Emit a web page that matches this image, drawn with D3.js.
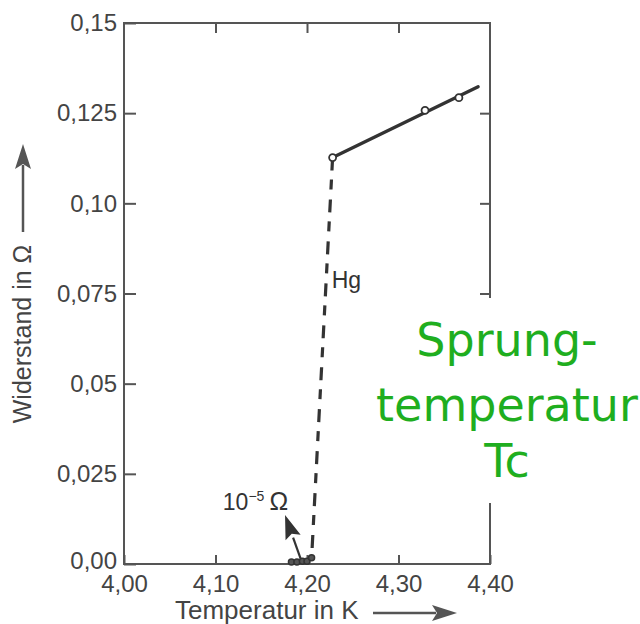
<!DOCTYPE html>
<html>
<head>
<meta charset="utf-8">
<script src="https://cdn.jsdelivr.net/npm/d3@7"></script>
<style>
  body { margin: 0; background: #fff; }
  svg { display: block; font-family: "Liberation Sans", Arial, sans-serif; }
</style>
</head>
<body>
<svg width="640" height="624"></svg>
<script>
  // measured points (open circles) above Tc
  const tempK = [4.228, 4.329, 4.366];
  const resOhm = [0.1127, 0.1258, 0.1293];
  // straight fit through the normal-state points
  const fitT = [4.228, 4.387];
  const fitR = [0.1127, 0.1323];
  // steep drop at the transition (dashed)
  const dropT = [4.228, 4.205];
  const dropR = [0.1127, 0.0015];
  // points below Tc, about 1e-5 ohm
  const lowT = [4.183, 4.189, 4.195, 4.2, 4.205];
  const lowR = [0.0, 0.0, 0.0002, 0.0002, 0.0012];
  const xTicks = [4.0, 4.1, 4.2, 4.3, 4.4];
  const yTicks = [0, 0.025, 0.05, 0.075, 0.1, 0.125, 0.15];
  const yTickLabels = ["0,00", "0,025", "0,05", "0,075", "0,10", "0,125", "0,15"];
  const greenLines = ["Sprung-", "temperatur", "Tc"];

  const svg = d3.select("svg");
  const axisCol = "#555";
  const inkCol = "#333";

  const x = d3.scaleLinear().domain([4.0, 4.4]).range([124, 490]);
  const y = d3.scaleLinear().domain([0, 0.15]).range([564, 23]);

  const fmtX = (d) => d.toFixed(2).replace(".", ",");

  // frame
  svg.append("rect")
    .attr("x", x(4.0)).attr("y", y(0.15))
    .attr("width", x(4.4) - x(4.0)).attr("height", y(0) - y(0.15))
    .attr("fill", "none").attr("stroke", axisCol).attr("stroke-width", 2);

  const styleAxis = (g, fs) => {
    g.select(".domain").remove();
    g.selectAll(".tick line").attr("stroke", axisCol).attr("stroke-width", 2);
    g.selectAll(".tick text").attr("fill", "#444").attr("font-size", fs);
  };

  svg.append("g").attr("transform", `translate(${x(4.0)},0)`)
    .call(d3.axisLeft(y).tickValues(yTicks).tickSizeInner(-12).tickSizeOuter(0)
      .tickPadding(7).tickFormat((d, i) => yTickLabels[i]))
    .call(styleAxis, 24)
    .call((g) => g.selectAll(".tick text").filter((d) => d === 0).attr("dy", "0.2em"));

  svg.append("g").attr("transform", `translate(0,${y(0)})`)
    .call(d3.axisBottom(x).tickValues(xTicks).tickSizeInner(-9).tickSizeOuter(0)
      .tickPadding(11).tickFormat(fmtX))
    .call(styleAxis, 24);

  svg.append("g").attr("transform", `translate(0,${y(0.15)})`)
    .call(d3.axisTop(x).tickValues(xTicks.slice(1, 4)).tickSizeInner(-10).tickSizeOuter(0)
      .tickFormat(""))
    .call(styleAxis, 0);

  svg.append("g").attr("transform", `translate(${x(4.4)},0)`)
    .call(d3.axisRight(y).tickValues(yTicks.slice(1, 6)).tickSizeInner(-10).tickSizeOuter(0)
      .tickFormat(""))
    .call(styleAxis, 0);

  // data
  const line = d3.line().x((d) => x(d[0])).y((d) => y(d[1]));

  svg.append("path")
    .attr("d", line(d3.zip(fitT, fitR)))
    .attr("fill", "none").attr("stroke", inkCol).attr("stroke-width", 3.4)
    .attr("stroke-linecap", "round");

  svg.append("path")
    .attr("d", line(d3.zip(dropT, dropR)))
    .attr("fill", "none").attr("stroke", inkCol).attr("stroke-width", 3.2)
    .attr("stroke-dasharray", "13 9 10 10");

  svg.selectAll("circle.hi")
    .data(d3.zip(tempK, resOhm))
    .join("circle").attr("class", "hi")
    .attr("cx", (d) => x(d[0])).attr("cy", (d) => y(d[1])).attr("r", 3.5)
    .attr("fill", "#fff").attr("stroke", inkCol).attr("stroke-width", 1.8);

  svg.selectAll("circle.lo")
    .data(d3.zip(lowT, lowR))
    .join("circle").attr("class", "lo")
    .attr("cx", (d) => x(d[0])).attr("cy", (d) => y(d[1]) - 2).attr("r", 3)
    .attr("fill", "#555").attr("stroke", inkCol).attr("stroke-width", 1.5);

  // arrow to the 1e-5 ohm points
  const ax0 = x(4.193), ay0 = y(0.0015), ax1 = x(4.176), ay1 = y(0.0136);
  const ang = Math.atan2(ay1 - ay0, ax1 - ax0);
  const hl = 24, hw = 8;
  const bx = ax1 - hl * Math.cos(ang), by = ay1 - hl * Math.sin(ang);
  svg.append("line")
    .attr("x1", ax0).attr("y1", ay0).attr("x2", bx).attr("y2", by)
    .attr("stroke", inkCol).attr("stroke-width", 2.2);
  svg.append("path")
    .attr("d", `M${ax1},${ay1}L${bx + hw * Math.sin(ang)},${by - hw * Math.cos(ang)}L${bx + 4 * Math.cos(ang)},${by + 4 * Math.sin(ang)}L${bx - hw * Math.sin(ang)},${by + hw * Math.cos(ang)}Z`)
    .attr("fill", inkCol);

  const lab = svg.append("text")
    .attr("x", x(4.108)).attr("y", y(0.0149))
    .attr("font-size", 23).attr("fill", "#333");
  lab.append("tspan").text("10");
  lab.append("tspan").text("−5").attr("font-size", 14).attr("dy", -9);
  lab.append("tspan").text("\u2009Ω").attr("dy", 9).attr("font-size", 25);

  svg.append("text")
    .attr("x", x(4.227)).attr("y", y(0.0765))
    .attr("font-size", 23).attr("fill", "#333").text("Hg");

  // axis titles
  svg.append("text")
    .attr("transform", "translate(31,334) rotate(-90)")
    .attr("text-anchor", "middle").attr("font-size", 25).attr("fill", "#444")
    .text("Widerstand in Ω");
  svg.append("line")
    .attr("x1", 23).attr("y1", 232).attr("x2", 23).attr("y2", 165)
    .attr("stroke", "#555").attr("stroke-width", 2.5);
  svg.append("path").attr("d", "M23,144L15,169L23,164L31,169Z").attr("fill", "#555");

  svg.append("text")
    .attr("x", 175).attr("y", 619)
    .attr("font-size", 26).attr("fill", "#444")
    .text("Temperatur in K");
  svg.append("line")
    .attr("x1", 373).attr("y1", 613).attr("x2", 436).attr("y2", 613)
    .attr("stroke", "#555").attr("stroke-width", 2.5);
  svg.append("path").attr("d", "M457,613L432,605L437,613L432,621Z").attr("fill", "#555");

  // green note, on a white patch over the right axis
  svg.append("rect")
    .attr("x", 400).attr("y", 298).attr("width", 240).attr("height", 205)
    .attr("fill", "#fff");
  svg.append("g")
    .selectAll("text")
    .data(greenLines)
    .join("text")
    .attr("x", 507)
    .attr("y", (d, i) => [356, 421, 477][i])
    .attr("text-anchor", "middle")
    .attr("font-family", "'DejaVu Sans', sans-serif")
    .attr("font-size", 46)
    .attr("fill", "#1fae1f")
    .text((d) => d);
</script>
</body>
</html>
